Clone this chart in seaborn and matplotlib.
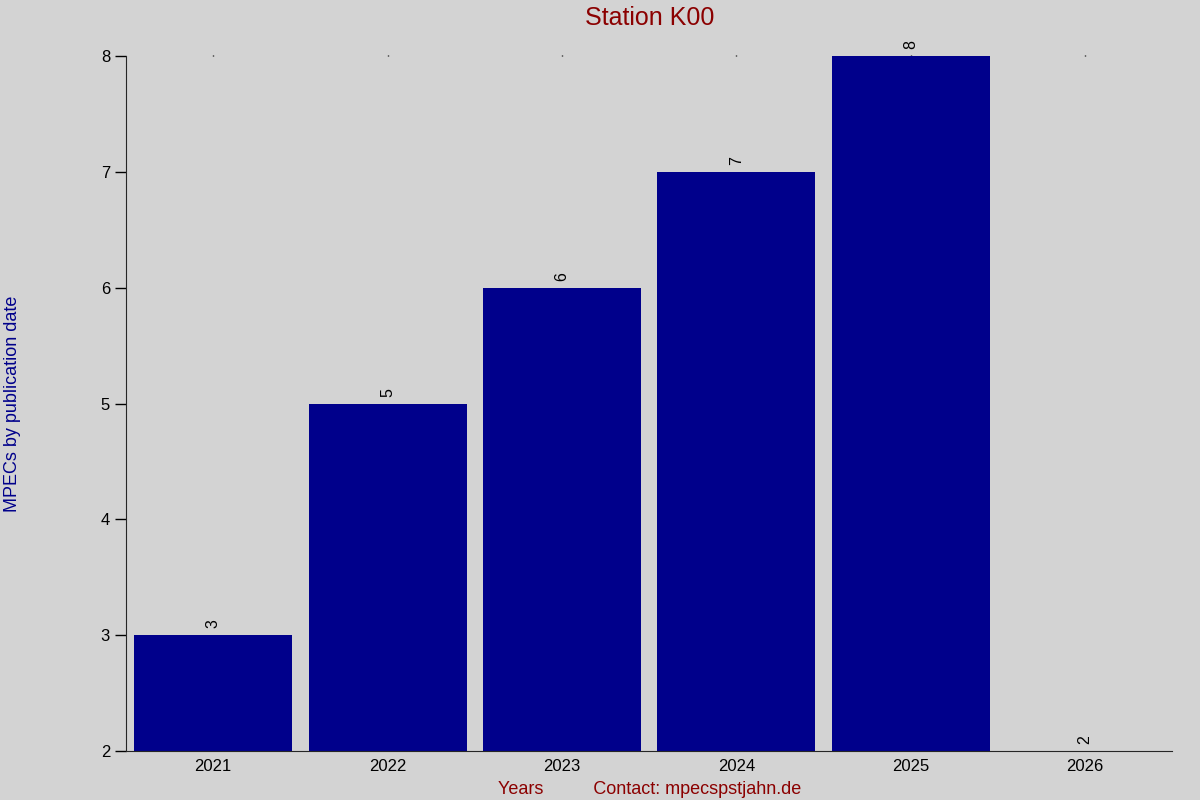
import matplotlib
matplotlib.use("Agg")
import matplotlib.pyplot as plt
import pandas as pd
import seaborn as sns

years = ["2021", "2022", "2023", "2024", "2025", "2026"]
mpecs = [3, 5, 6, 7, 8, 2]

df = pd.DataFrame({"Year": years, "MPECs": mpecs})

sns.set_style("ticks")
plt.rcParams["font.family"] = ["Liberation Sans", "DejaVu Sans"]

fig = plt.figure(figsize=(12, 8), dpi=100, facecolor="#d3d3d3")
ax = fig.add_axes([0.105, 0.06125, 0.872, 0.86875])
ax.set_facecolor("#d3d3d3")

sns.barplot(x="Year", y="MPECs", data=df, color="#00008b", saturation=1,
            width=0.905, linewidth=0, ax=ax)

ax.set_ylim(2, 8)
ax.set_xlim(-0.5, 5.5)
ax.set_yticks([2, 3, 4, 5, 6, 7, 8])

for i, v in enumerate(mpecs):
    ax.text(i, v + 0.06, str(v), rotation=90, ha="center", va="bottom",
            fontsize=11.5, color="black")

ax.spines["top"].set_visible(False)
ax.spines["right"].set_visible(False)
ax.tick_params(axis="x", bottom=False, top=True, length=1, width=1,
               labelsize=12, pad=5, colors="black")
ax.tick_params(axis="y", length=8, width=1, labelsize=12, colors="black")

ax.set_title("Station K00", color="#8b0000", fontsize=18, pad=22)
ax.set_ylabel("MPECs by publication date", color="#00008b", fontsize=13)
ax.yaxis.set_label_coords(-0.1, 0.5)
ax.set_xlabel("Years          Contact: mpecspstjahn.de", color="#8b0000",
              fontsize=13, labelpad=5)

fig.savefig("out.png", dpi=100, facecolor="#d3d3d3")
